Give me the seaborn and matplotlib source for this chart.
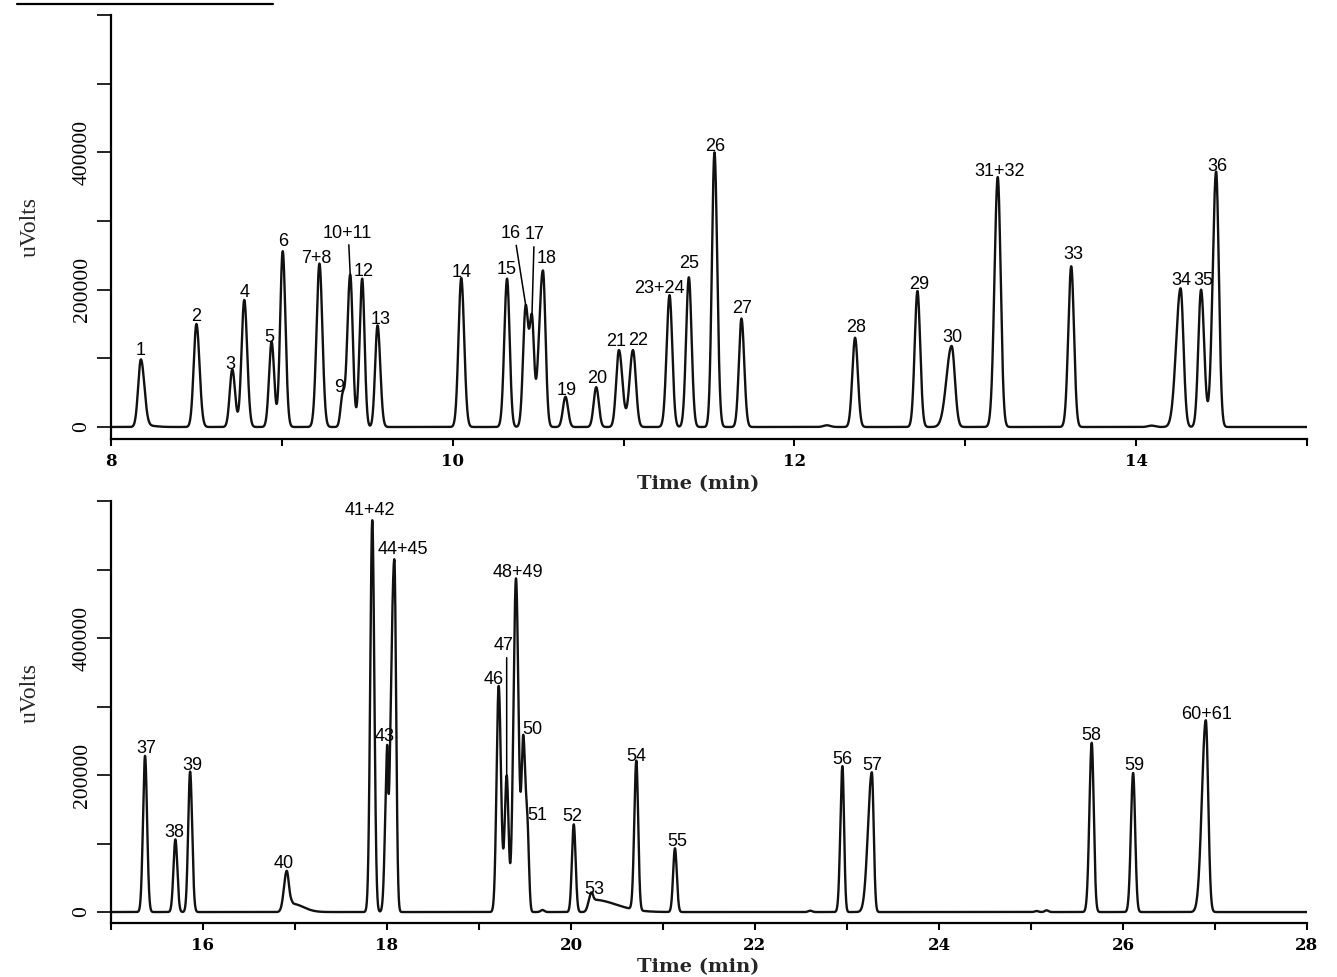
import numpy as np
import pandas as pd
import matplotlib
matplotlib.use("Agg")
import matplotlib.pyplot as plt
import seaborn as sns
from matplotlib.lines import Line2D

# ---------------- data (peak table) ----------------
# top panel (8-15 min)
top_names = ['1', '', '2', '3', '4', '5', '6', '7+8', '9', '10+11', '12', '13',
             '14', '15', '16', '17', '18', '19', '20', '21', '22', '23+24', '25',
             '26', '27', '', '28', '29', '30', '31+32', '33', '', '34', '35', '36']
top_rt = [8.175, 8.21, 8.50, 8.71, 8.78, 8.94, 9.005, 9.22, 9.355, 9.40, 9.47, 9.56,
          10.05, 10.318, 10.427, 10.464, 10.528, 10.66, 10.84, 10.973, 11.055, 11.269, 11.382,
          11.532, 11.69, 12.19, 12.355, 12.72, 12.92, 13.19, 13.62, 14.09, 14.26, 14.38, 14.468]
top_height = [98000, 2000, 150000, 84000, 185000, 124000, 256000, 238000, 43000, 222000, 216000, 148000,
              217000, 216000, 175000, 147000, 228000, 44000, 58000, 112000, 112000, 192000, 218000,
              400000, 158000, 2500, 130000, 198000, 118000, 364000, 234000, 2000, 202000, 200000, 372000]
top_sig_l = [0.016, 0.02, 0.016, 0.015, 0.016, 0.015, 0.015, 0.017, 0.012, 0.017, 0.015, 0.014,
             0.016, 0.016, 0.015, 0.013, 0.023, 0.015, 0.015, 0.016, 0.02, 0.017, 0.016,
             0.015, 0.015, 0.02, 0.016, 0.016, 0.03, 0.019, 0.017, 0.02, 0.026, 0.016, 0.02]
top_sig_r = [0.02, 0.05, 0.018, 0.016, 0.017, 0.015, 0.016, 0.017, 0.012, 0.015, 0.014, 0.016,
             0.017, 0.015, 0.016, 0.012, 0.015, 0.015, 0.015, 0.02, 0.017, 0.016, 0.016,
             0.016, 0.016, 0.02, 0.016, 0.016, 0.019, 0.017, 0.016, 0.02, 0.017, 0.018, 0.016]

# bottom panel (15-28 min)
bot_names = ['37', '38', '39', '40', '', '41+42', '43', '44+45', '46', '47', '48+49', '50', '51',
             '', '52', '53', '', '54', '55', '', '56', '57', '', '', '58', '59', '60+61']
bot_rt = [15.37, 15.70, 15.86, 16.91, 16.97, 17.84, 18.00, 18.08, 19.214, 19.301, 19.402, 19.482, 19.529,
          19.69, 20.03, 20.21, 20.24, 20.71, 21.13, 22.60, 22.95, 23.27, 25.06, 25.17, 25.66, 26.11, 26.90]
bot_height = [228000, 106000, 205000, 60000, 12000, 572000, 185000, 515000, 330000, 198000, 487000, 250000, 90000,
              3000, 128000, 20000, 18000, 218000, 93000, 2000, 213000, 204000, 1500, 2500, 247000, 203000, 280000]
bot_sig_l = [0.022, 0.021, 0.021, 0.03, 0.02, 0.022, 0.022, 0.038, 0.023, 0.022, 0.028, 0.02, 0.016,
             0.02, 0.02, 0.025, 0.02, 0.022, 0.02, 0.02, 0.022, 0.042, 0.02, 0.02, 0.025, 0.024, 0.042]
bot_sig_r = [0.022, 0.021, 0.022, 0.025, 0.12, 0.022, 0.01, 0.019, 0.025, 0.02, 0.0276, 0.025, 0.016,
             0.02, 0.02, 0.02, 0.25, 0.02, 0.02, 0.02, 0.018, 0.02, 0.02, 0.02, 0.022, 0.022, 0.026]

# axis ticks
top_xticks = [8, 9, 10, 11, 12, 13, 14, 15]
top_xlabels = ['8', '', '10', '', '12', '', '14', '']
bot_xticks = [15, 16, 17, 18, 19, 20, 21, 22, 23, 24, 25, 26, 27, 28]
bot_xlabels = ['', '16', '', '18', '', '20', '', '22', '', '24', '', '26', '', '28']
yticks = [0, 100000, 200000, 300000, 400000, 500000, 600000]
ylabels = ['0', '', '200000', '', '400000', '', '']

# label placement tweaks (pixel offsets dx, dy of text baseline from the apex)
label_offsets = {
    '1': (0, 4), '2': (0, 3), '3': (-2, 0), '4': (0, 3), '5': (-2, 0), '6': (0, 5), '7+8': (-3, 1),
    '9': (-3, 1), '10+11': (-3, 37), '12': (1, 3), '13': (3, 1), '14': (0, 1), '15': (0, 5),
    '16': (-15, 67), '17': (3, 75), '18': (4, 7), '19': (1, 2), '20': (1, 4), '21': (-3, 4),
    '22': (5, 5), '23+24': (-10, 2), '25': (0, 9), '26': (1, 1), '27': (1, 5), '28': (1, 6),
    '29': (2, 2), '30': (1, 4), '31+32': (2, 1), '33': (2, 7), '34': (1, 3), '35': (2, 5), '36': (1, 1),
    '37': (1, 3), '38': (-1, 2), '39': (2, 2), '40': (-3, 3), '41+42': (-2, 5), '43': (-2, 6),
    '44+45': (9, 5), '46': (-5, 2), '47': (-3, 125), '48+49': (2, 1), '50': (9, 1), '51': (10, 1),
    '52': (-1, 3), '53': (4, 0), '54': (0, 0), '55': (2, 2), '56': (0, 2), '57': (0, 2),
    '58': (0, 3), '59': (1, 3), '60+61': (1, 1),
}
leaders = {'10+11': 0.53, '16': 0.75, '17': 0.45, '47': 0.65}


def build_trace(t, rt, h, sl, sr):
    y = np.zeros_like(t)
    for r, a, l, s in zip(rt, h, sl, sr):
        sig = np.where(t < r, l, s)
        y += a * np.exp(-0.5 * ((t - r) / sig) ** 2)
    return y


sns.set_style("ticks")
plt.rcParams['font.family'] = ['Liberation Sans', 'DejaVu Sans']

W, H = 1337, 977
fig = plt.figure(figsize=(W / 100, H / 100), dpi=100)

panels = [
    dict(rect=[111 / W, 1 - 439 / H, 1196 / W, 424 / H], xlim=(8, 15), ylim=(-17500, 600000),
         names=top_names, rt=top_rt, h=top_height, sl=top_sig_l, sr=top_sig_r,
         xt=top_xticks, xl=top_xlabels, ylab_y=0.50, xlab_y=-0.118),
    dict(rect=[111 / W, 1 - 923 / H, 1196 / W, 422 / H], xlim=(15, 28), ylim=(-16000, 600000),
         names=bot_names, rt=bot_rt, h=bot_height, sl=bot_sig_l, sr=bot_sig_r,
         xt=bot_xticks, xl=bot_xlabels, ylab_y=0.545, xlab_y=-0.116),
]

for p in panels:
    ax = fig.add_axes(p['rect'])
    t = np.linspace(p['xlim'][0], p['xlim'][1], 14001)
    y = build_trace(t, p['rt'], p['h'], p['sl'], p['sr'])
    df = pd.DataFrame({'Time (min)': t, 'uVolts': y})
    sns.lineplot(data=df, x='Time (min)', y='uVolts', ax=ax, color='#111111', linewidth=1.7,
                 estimator=None, sort=False)

    for name, r in zip(p['names'], p['rt']):
        if not name:
            continue
        yv = build_trace(np.array([r]), p['rt'], p['h'], p['sl'], p['sr'])[0]
        dx, dy = label_offsets.get(name, (0, 3))
        kw = {}
        if name in leaders:
            kw['arrowprops'] = dict(arrowstyle='-', color='black', lw=1.1, shrinkA=0, shrinkB=0,
                                    relpos=(leaders[name], 0.0))
        ax.annotate(name, xy=(r, yv), xytext=(dx, dy), textcoords='offset pixels',
                    ha='center', va='baseline', fontsize=13, family='Liberation Sans',
                    color='black', **kw)

    ax.set_xlim(*p['xlim'])
    ax.set_ylim(*p['ylim'])
    ax.set_xticks(p['xt'])
    ax.set_xticklabels(p['xl'], fontfamily='DejaVu Serif', fontweight='bold', fontsize=12)
    ax.set_yticks(yticks)
    ax.set_yticklabels(ylabels, fontfamily='Liberation Serif', fontsize=15.5, rotation=90, va='center')
    ax.tick_params(axis='x', direction='out', length=5, width=1.5, pad=5, colors='black')
    ax.tick_params(axis='y', direction='out', length=10, width=1.2, pad=4, colors='black')
    for s in ['top', 'right']:
        ax.spines[s].set_visible(False)
    for s in ['left', 'bottom']:
        ax.spines[s].set_linewidth(1.6)
        ax.spines[s].set_color('black')
    ax.set_xlabel('Time (min)', fontfamily='DejaVu Serif', fontweight='bold', fontsize=14)
    ax.xaxis.label.set_va('baseline')
    ax.xaxis.set_label_coords(0.491, p['xlab_y'])
    ax.set_ylabel('uVolts', fontfamily='Liberation Serif', fontsize=17)
    ax.yaxis.set_label_coords(-0.059, p['ylab_y'])
    ax.set_facecolor('white')

# cropped underlined heading at the very top
fig.add_artist(Line2D([17 / W, 273 / W], [1 - 4 / H, 1 - 4 / H], color='black', lw=1.6))

fig.savefig('out.png', dpi=100, facecolor='white')
